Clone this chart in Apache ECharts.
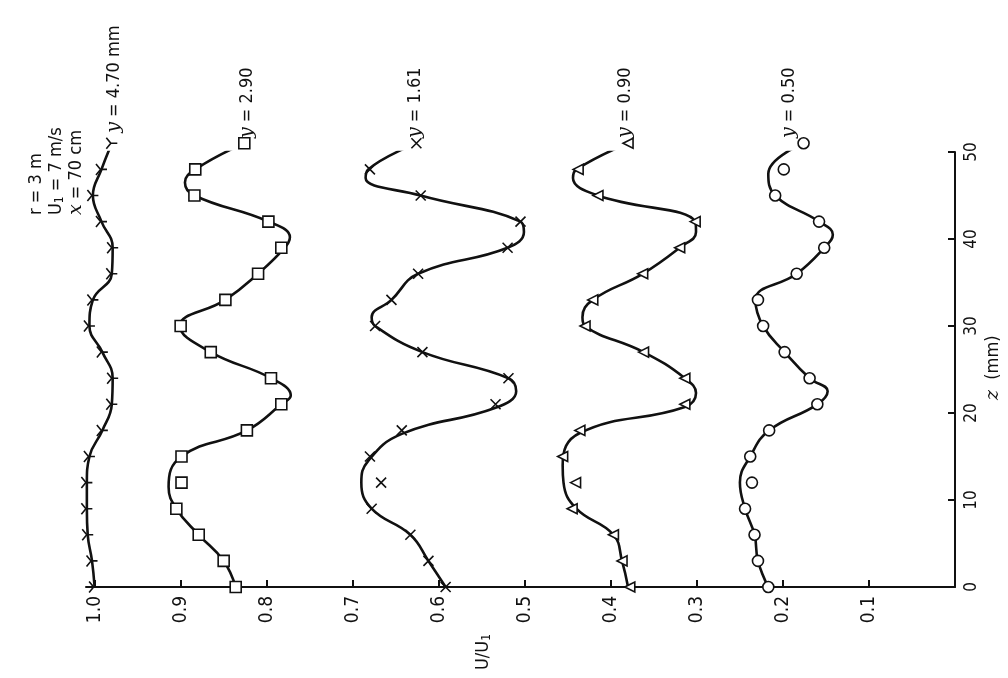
<!DOCTYPE html>
<html>
<head>
<meta charset="utf-8">
<script src="https://cdn.jsdelivr.net/npm/echarts@6/dist/echarts.min.js"></script>
<style>
  html, body { margin: 0; padding: 0; background: #ffffff; }
  #chart { width: 1008px; height: 678px; }
</style>
</head>
<body>
<div id="chart"></div>
<script>
// Spanwise stations z (mm) at which U/U1 was measured
const zStations = [0, 3, 6, 9, 12, 15, 18, 21, 24, 27, 30, 33, 36, 39, 42, 45, 48, 51];

// Measured U/U1 at each station, one list per height y (mm)
const u470 = [1.000, 1.003, 1.008, 1.009, 1.009, 1.006, 0.991, 0.980, 0.979, 0.991, 1.006, 1.002, 0.980, 0.979, 0.992, 1.002, 0.992, 0.980];
const u290 = [0.836, 0.850, 0.879, 0.905, 0.899, 0.899, 0.823, 0.783, 0.795, 0.865, 0.900, 0.848, 0.810, 0.783, 0.798, 0.884, 0.883, 0.826];
const u161 = [0.592, 0.612, 0.633, 0.678, 0.667, 0.680, 0.643, 0.534, 0.519, 0.619, 0.674, 0.655, 0.624, 0.520, 0.505, 0.621, 0.680, 0.626];
const u090 = [0.378, 0.387, 0.397, 0.445, 0.441, 0.456, 0.436, 0.314, 0.314, 0.362, 0.430, 0.421, 0.363, 0.320, 0.302, 0.415, 0.438, 0.380];
const u050 = [0.217, 0.229, 0.233, 0.244, 0.236, 0.238, 0.216, 0.160, 0.169, 0.198, 0.223, 0.229, 0.184, 0.152, 0.158, 0.209, 0.199, 0.176];

// Faired curves drawn through the data (z, U/U1)
const zFair290 = [0, 3, 6, 9, 11.5, 15, 18, 21, 22, 24, 27, 30, 33, 36, 39, 40.2, 42, 45, 46.5, 48, 51];
const uFair290 = [0.836, 0.850, 0.879, 0.905, 0.914, 0.899, 0.823, 0.783, 0.772, 0.795, 0.865, 0.901, 0.848, 0.810, 0.779, 0.773, 0.798, 0.884, 0.895, 0.883, 0.826];
const zFair161 = [0, 3, 6, 9, 12, 14.5, 17.6, 20.6, 22.5, 24, 27, 30, 31, 33, 36, 39, 40.8, 42, 45, 47, 48, 51];
const uFair161 = [0.592, 0.612, 0.633, 0.678, 0.690, 0.682, 0.643, 0.534, 0.510, 0.519, 0.619, 0.674, 0.678, 0.655, 0.624, 0.520, 0.501, 0.505, 0.621, 0.685, 0.682, 0.626];
const zFair090 = [0, 3, 6, 9, 12, 14, 17.7, 20.7, 22.3, 24, 27, 30, 31, 33, 36, 39, 40.8, 42, 45, 47, 48, 51];
const uFair090 = [0.380, 0.387, 0.397, 0.440, 0.455, 0.456, 0.436, 0.314, 0.301, 0.314, 0.362, 0.430, 0.433, 0.421, 0.363, 0.320, 0.301, 0.302, 0.415, 0.444, 0.440, 0.380];
const zFair050 = [0, 3, 6, 9, 12, 15, 18, 21, 22.5, 24, 27, 30, 33, 36, 39, 40.5, 42, 45, 47.5, 51];
const uFair050 = [0.217, 0.229, 0.233, 0.244, 0.250, 0.238, 0.216, 0.160, 0.148, 0.169, 0.198, 0.223, 0.232, 0.184, 0.152, 0.142, 0.158, 0.209, 0.217, 0.176];

// Axis ticks
const uTicks = [0, 0.1, 0.2, 0.3, 0.4, 0.5, 0.6, 0.7, 0.8, 0.9, 1.0];
const zTicks = [0, 10, 20, 30, 40, 50];

// Curve labels: text and anchor (U/U1, z)
const curveLabels = ['2.90', '1.61', '0.90', '0.50'];
const curveLabelU = [0.823, 0.627, 0.383, 0.193];
const curveLabelZ = [51.6, 51.6, 51.6, 51.6];

const FONT = "'Liberation Sans Narrow', 'DejaVu Sans Condensed', 'Liberation Sans', sans-serif";
const INK = '#111111';

function pairs(us, zs) { return us.map((u, i) => [u, zs[i]]); }

const markerStyle = { color: '#ffffff', borderColor: INK, borderWidth: 1.6, opacity: 1 };
const strokeOnly = { color: 'rgba(0,0,0,0)', borderColor: INK, borderWidth: 1.6, opacity: 1 };

function fairLine(name, us, zs) {
  return {
    type: 'line', name: name, data: pairs(us, zs), smooth: 0.45,
    showSymbol: false, symbol: 'none',
    lineStyle: { color: INK, width: 2.6 }, z: 2, silent: true
  };
}
function marks(name, us, symbol, size, style, rotate) {
  return {
    type: 'scatter', name: name, data: pairs(us, zStations),
    symbol: symbol, symbolSize: size, symbolRotate: rotate || 0,
    itemStyle: style, z: 3, clip: false, silent: true
  };
}

const chart = echarts.init(document.getElementById('chart'), null, { renderer: 'canvas' });

const option = {
  backgroundColor: '#ffffff',
  animation: false,
  grid: { left: 86, right: 53, top: 152, bottom: 91, containLabel: false },
  xAxis: {
    type: 'value', min: 0, max: 1.01, inverse: true, position: 'bottom',
    splitLine: { show: false },
    axisLine: { show: true, onZero: false, lineStyle: { color: INK, width: 2 } },
    axisTick: { show: true, inside: true, length: 7, customValues: uTicks, lineStyle: { color: INK, width: 2 } },
    axisLabel: {
      rotate: 90, margin: 9, color: INK, fontFamily: FONT, fontSize: 19, customValues: uTicks,
      formatter: v => (v === 0 ? '' : v.toFixed(1))
    }
  },
  yAxis: {
    type: 'value', min: 0, max: 50, interval: 10, position: 'right',
    splitLine: { show: false },
    axisLine: { show: true, onZero: false, lineStyle: { color: INK, width: 2 } },
    axisTick: { show: true, inside: true, length: 7, customValues: zTicks, lineStyle: { color: INK, width: 2 } },
    axisLabel: {
      rotate: 90, margin: 8, color: INK, fontFamily: FONT, fontSize: 17, customValues: zTicks,
      formatter: v => String(v)
    }
  },
  series: [
    fairLine('y=4.70', u470, zStations),
    marks('y=4.70 pts', u470, 'path://M0,0 L10,0 M0,0 L-7,-7 M0,0 L-7,7', 11, strokeOnly),
    fairLine('y=2.90', uFair290, zFair290),
    marks('y=2.90 pts', u290, 'rect', 11, markerStyle),
    fairLine('y=1.61', uFair161, zFair161),
    marks('y=1.61 pts', u161, 'path://M0,0 L10,10 M10,0 L0,10', 10, strokeOnly),
    fairLine('y=0.90', uFair090, zFair090),
    marks('y=0.90 pts', u090, 'triangle', 10, markerStyle, 90),
    fairLine('y=0.50', uFair050, zFair050),
    marks('y=0.50 pts', u050, 'circle', 11, markerStyle)
  ]
};
chart.setOption(option);

// Rotated annotation text (reads bottom-to-top, like the axis labels)
const rich = {
  i: { fontFamily: "'DejaVu Serif', 'Liberation Serif', serif", fontStyle: 'italic', fontSize: 19, fill: INK },
  t: { fontFamily: FONT, fontSize: 18, fill: INK },
  s: { fontFamily: FONT, fontSize: 12, fill: INK, verticalAlign: 'bottom', padding: [8, 0, 0, 0] }
};
function vText(x, y, text) {
  return {
    type: 'text', x: x, y: y, rotation: Math.PI / 2, silent: true,
    style: { text: text, rich: rich, textAlign: 'left', textVerticalAlign: 'middle', fill: INK }
  };
}

const graphics = [];
curveLabels.forEach((lab, k) => {
  const p = chart.convertToPixel({ gridIndex: 0 }, [curveLabelU[k], curveLabelZ[k]]);
  graphics.push(vText(p[0], p[1], '{i|y}{t| = ' + lab + '}'));
});
const p470 = chart.convertToPixel({ gridIndex: 0 }, [0.977, 52.2]);
graphics.push(vText(p470[0], p470[1], '{i|y}{t| = 4.70 mm}'));

// Flow conditions
graphics.push(vText(36, 215, '{t|r = 3 m}'));
graphics.push(vText(56, 215, '{t|U}{s|1}{t| = 7 m/s}'));
graphics.push(vText(76, 215, '{i|x}{t| = 70 cm}'));

// Axis titles
graphics.push(vText(483, 670, '{t|U/U}{s|1}'));
graphics.push(vText(993, 400, '{i|z}{t|  (mm)}'));

chart.setOption({ graphic: graphics });
</script>
</body>
</html>
